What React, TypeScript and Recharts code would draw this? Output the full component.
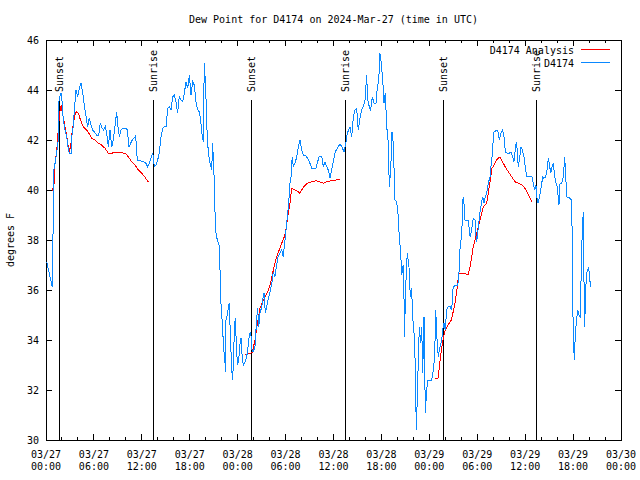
import React from 'react'
import {
  LineChart,
  Line,
  XAxis,
  YAxis,
  ReferenceLine,
  ReferenceArea,
  ReferenceDot,
} from 'recharts'

// time axis is minutes after 03/27 00:00 UTC
const blueMinutes = [
  5, 47, 53, 55, 68, 80, 92, 98, 110, 118,
  122, 130, 143, 156, 168, 175, 188, 193, 205, 213,
  225, 238, 250, 263, 276, 288, 301, 313, 325, 338,
  351, 363, 381, 396, 408, 421, 433, 446, 456, 468,
  481, 494, 506, 518, 531, 541, 551, 563, 581, 599,
  611, 624, 636, 648, 661, 674, 686, 701, 719, 736,
  751, 764, 776, 789, 802, 814, 826, 839, 851, 864,
  877, 889, 902, 914, 926, 939, 952, 964, 977, 989,
  1001, 1014, 1027, 1039, 1052, 1065, 1077, 1089, 1102, 1114,
  1127, 1140, 1152, 1162, 1174, 1182, 1189, 1200, 1207, 1219,
  1232, 1245, 1252, 1262, 1272, 1275, 1287, 1300, 1307, 1313,
  1322, 1330, 1337, 1345, 1347, 1352, 1365, 1370, 1377, 1388,
  1395, 1400, 1407, 1415, 1422, 1433, 1440, 1448, 1458, 1465,
  1475, 1482, 1495, 1508, 1520, 1527, 1538, 1548, 1557, 1570,
  1583, 1590, 1598, 1608, 1621, 1628, 1638, 1648, 1658, 1668,
  1678, 1688, 1698, 1708, 1720, 1733, 1743, 1758, 1771, 1783,
  1790, 1801, 1808, 1816, 1823, 1833, 1841, 1850, 1858, 1871,
  1884, 1896, 1908, 1921, 1933, 1953, 1966, 1983, 1996, 2029,
  2041, 2053, 2071, 2083, 2096, 2109, 2121, 2134, 2146, 2158,
  2174, 2189, 2209, 2222, 2239, 2254, 2264, 2274, 2284, 2297,
  2309, 2322, 2334, 2346, 2359, 2372, 2384, 2397, 2409, 2417,
  2429, 2439, 2452, 2464, 2479, 2489, 2500, 2509, 2519, 2530,
  2539, 2549, 2560, 2572, 2579, 2590, 2599, 2609, 2622, 2635,
  2647, 2654, 2665, 2672, 2684, 2690, 2695, 2699, 2714, 2727,
  2737, 2747, 2755, 2765, 2775, 2782, 2790, 2797, 2805, 2815,
  2823, 2830, 2840, 2850, 2860, 2870, 2898, 2910, 2920, 2928,
  2935, 2947, 2960, 2973, 2980, 2990, 3000, 3010, 3022, 3035,
  3048, 3053, 3058, 3073, 3090, 3098, 3105, 3110, 3118, 3125,
  3131, 3138, 3148, 3173, 3180, 3186, 3198, 3210, 3223, 3231,
  3236, 3248, 3261, 3273, 3281, 3291, 3301, 3311, 3323, 3336,
  3343, 3351, 3358, 3366, 3381, 3394, 3406, 3418, 3431, 3441,
  3451, 3466, 3481, 3494, 3506, 3516, 3524, 3533, 3541, 3548,
  3556, 3569, 3579, 3591, 3601, 3612, 3651, 3661, 3672, 3681,
  3687, 3696, 3706, 3717, 3732, 3741, 3754, 3764, 3774, 3781,
  3792, 3802, 3811, 3822, 3832, 3841, 3854, 3862, 3874, 3887,
  3897, 3905, 3912, 3937, 3947, 3954, 3957, 3962, 3969, 3977,
  3987, 3995, 4004, 4014, 4022, 4029, 4037, 4042, 4047, 4055,
  4062, 4070, 4077, 4085, 4095,
]

const blueValues = [
  37.13, 36.12, 38.36, 40.67, 41.07, 41.47, 42.0, 43.6, 43.87, 43.87,
  43.33, 42.8, 42.4, 42.13, 41.6, 41.47, 41.47, 42.13, 42.53, 43.2,
  44.0, 43.73, 44.07, 44.27, 43.87, 43.4, 42.93, 42.53, 42.87, 42.6,
  42.4, 42.33, 42.2, 42.2, 42.67, 42.47, 42.4, 42.53, 42.27, 41.73,
  42.4, 41.73, 42.0, 42.53, 43.13, 42.53, 42.13, 42.4, 42.47, 42.47,
  42.4, 41.73, 41.87, 42.0, 42.07, 42.16, 41.2, 41.2, 41.13, 41.13,
  41.07, 40.93, 41.07, 41.27, 41.47, 40.93, 41.0, 41.2, 41.47, 42.13,
  42.47, 42.53, 42.53, 43.27, 43.33, 43.2, 43.73, 43.8, 43.53, 43.07,
  43.73, 43.6, 43.53, 43.87, 44.33, 44.07, 44.6, 43.8, 44.33, 44.2,
  43.53, 43.2, 43.13, 42.8, 42.13, 41.93, 45.07, 44.07, 42.67, 41.53,
  41.07, 40.8, 41.87, 40.67, 38.67, 38.33, 38.0, 37.8, 36.87, 35.6,
  34.87, 34.13, 33.53, 33.07, 32.73, 34.8, 35.07, 35.36, 35.47, 33.73,
  32.93, 32.4, 32.87, 34.4, 34.87, 33.47, 33.0, 33.2, 33.87, 34.07,
  33.27, 33.0, 33.13, 33.33, 33.8, 34.2, 34.33, 33.6, 33.53, 33.73,
  34.87, 35.27, 34.53, 35.07, 35.33, 35.6, 35.87, 35.07, 35.33, 35.6,
  35.8, 36.07, 36.33, 36.73, 36.53, 37.0, 37.33, 37.47, 37.6, 37.33,
  37.73, 38.27, 38.67, 39.07, 39.47, 40.27, 40.53, 41.33, 40.93, 41.07,
  41.33, 41.73, 42.0, 41.6, 41.4, 41.36, 41.27, 41.07, 40.87, 40.87,
  41.13, 41.36, 41.36, 40.93, 41.13, 40.93, 40.8, 40.47, 40.8, 41.13,
  41.53, 41.67, 41.84, 41.73, 41.53, 41.93, 42.27, 42.4, 42.53, 42.13,
  42.93, 43.2, 43.27, 42.4, 42.87, 43.2, 43.33, 43.6, 44.6, 43.6,
  43.33, 43.2, 43.73, 43.47, 43.47, 44.07, 44.4, 45.47, 45.07, 44.4,
  43.47, 43.87, 42.53, 41.87, 40.13, 40.8, 42.33, 41.87, 39.6, 39.53,
  38.93, 38.13, 37.47, 36.6, 37.0, 35.6, 34.13, 35.73, 37.47, 36.93,
  35.73, 36.07, 34.93, 34.27, 32.93, 30.4, 31.73, 33.2, 34.53, 33.87,
  34.53, 32.67, 34.93, 31.07, 32.0, 32.4, 32.4, 32.8, 33.33, 35.2,
  34.27, 33.33, 33.73, 34.0, 34.4, 34.67, 34.4, 35.2, 35.33, 35.36,
  35.2, 35.6, 36.07, 36.2, 36.2, 36.33, 36.87, 37.6, 38.0, 38.47,
  39.6, 39.67, 38.8, 38.8, 38.4, 38.13, 38.4, 38.88, 38.8, 38.13,
  37.93, 38.53, 39.12, 39.53, 39.73, 39.47, 39.73, 39.87, 40.27, 40.53,
  40.93, 41.33, 41.87, 42.33, 42.37, 42.37, 42.0, 42.27, 42.4, 42.13,
  41.53, 41.47, 41.47, 41.53, 41.33, 41.13, 41.53, 41.93, 41.6, 40.93,
  41.2, 41.73, 41.6, 41.33, 40.93, 40.53, 40.53, 40.27, 40.0, 40.2,
  39.73, 39.47, 39.67, 40.0, 40.53, 40.47, 40.53, 40.8, 41.27, 41.07,
  40.67, 40.93, 41.07, 40.53, 40.27, 40.13, 39.4, 40.27, 40.27, 40.53,
  41.33, 40.53, 39.73, 39.67, 39.6, 38.13, 35.73, 34.13, 33.2, 34.27,
  34.87, 35.2, 35.0, 34.93, 37.0, 38.4, 39.13, 36.4, 34.53, 36.07,
  36.67, 36.8, 36.93, 36.4, 36.13,
]

// analysis series comes in three runs
const analysisMinutes1 = [
  47, 60, 68, 80, 92, 100, 108, 115, 122, 130,
  143, 156, 168, 175, 186, 198, 210, 220, 231, 243,
  255, 268, 280, 306, 331, 343, 368, 393, 418, 443,
  468, 494, 518, 543, 569, 601, 618, 644, 669, 693,
  719, 744, 761, 776,
]
const analysisValues1 = [
  39.97, 40.2, 41.07, 41.53, 42.4, 42.9, 43.3, 43.35, 43.1, 42.93,
  42.53, 42.13, 41.73, 41.53, 41.8, 42.4, 42.8, 43.07, 43.13, 43.07,
  42.87, 42.67, 42.53, 42.4, 42.2, 42.07, 42.0, 41.87, 41.8, 41.67,
  41.47, 41.47, 41.51, 41.52, 41.49, 41.44, 41.33, 41.13, 41.0, 40.8,
  40.67, 40.51, 40.37, 40.31,
]
const analysisMinutes2 = [
  1495, 1520, 1538, 1548, 1557, 1570, 1583, 1595, 1608,
  1628, 1648, 1668, 1688, 1708,
  1733, 1752, 1771, 1783, 1795, 1808, 1820, 1833, 1846, 1858,
  1873, 1896, 1908, 1921, 1938, 1963, 1996, 2029, 2053, 2083,
  2109, 2146, 2179, 2209,
]
const analysisValues2 = [
  33.4, 33.44, 33.47, 33.49, 33.67, 34.0, 34.47, 34.87, 35.27,
  35.55, 35.75, 35.95, 36.3, 36.8,
  37.33, 37.6, 37.87, 38.03, 38.2, 38.6, 39.07, 39.47, 40.07, 40.03,
  40.0, 39.93, 39.87, 40.0, 40.13, 40.27, 40.33, 40.37, 40.33, 40.27,
  40.33, 40.37, 40.4, 40.43,
]
const analysisMinutes3 = [
  2925, 2945, 2955, 2970, 2983, 2995, 3007, 3020, 3045, 3071,
  3090, 3101, 3141, 3171, 3186, 3198, 3210, 3223, 3236, 3248,
  3261, 3273, 3286, 3311, 3323, 3330, 3341, 3348, 3361, 3373,
  3386, 3398, 3411, 3423, 3436, 3456, 3473, 3499, 3524, 3548,
  3574, 3591, 3606, 3624, 3636, 3651,
]
const analysisValues3 = [
  32.47, 32.47, 32.9, 33.6, 34.0, 34.33, 34.47, 34.6, 34.8, 35.4,
  36.13, 36.67, 36.67, 36.6, 36.93, 37.33, 37.73, 38.0, 38.27, 38.53,
  38.8, 39.07, 39.33, 39.47, 39.87, 40.13, 40.47, 40.87, 40.93, 41.07,
  41.2, 41.27, 41.33, 41.2, 41.07, 40.87, 40.73, 40.53, 40.33, 40.27,
  40.2, 40.13, 40.0, 39.8, 39.67, 39.53,
]

const sunMinutes = [100, 806, 1542, 2249, 2985, 3684]
const sunLabels = ['Sunset', 'Sunrise', 'Sunset', 'Sunrise', 'Sunset', 'Sunrise']
const sunLineTop = 43.6

const yTicks = [30, 32, 34, 36, 38, 40, 42, 44, 46]
const xTicks = Array.from({ length: 37 }, (_, i) => i * 120)
const tickDates = ['03/27', '03/27', '03/27', '03/27', '03/28', '03/28', '03/28', '03/28', '03/29', '03/29', '03/29', '03/29', '03/30']
const tickTimes = ['00:00', '06:00', '12:00', '18:00', '00:00', '06:00', '12:00', '18:00', '00:00', '06:00', '12:00', '18:00', '00:00']

const title = 'Dew Point for D4174 on 2024-Mar-27 (time in UTC)'
const analysisName = 'D4174 Analysis'
const stationName = 'D4174'

const RED = '#ff0000'
const BLUE = '#0a88ff'
const FONT = "'DejaVu Sans Mono', monospace"

const W = 640
const H = 480
const PLOT = { left: 46, right: 621, top: 40, bottom: 440 }

const pairs = (ts: number[], vs: number[]) => ts.map((t, i) => ({ t, v: vs[i] }))

const blueData = pairs(blueMinutes, blueValues)
const redData = [
  ...pairs(analysisMinutes1, analysisValues1),
  { t: 1000, v: null },
  ...pairs(analysisMinutes2, analysisValues2),
  { t: 2500, v: null },
  ...pairs(analysisMinutes3, analysisValues3),
]

function XTick(props: any) {
  const { x, payload } = props
  const t = payload.value as number
  const major = t % 360 === 0
  const len = major ? 6 : 3
  const idx = t / 360
  return (
    <g>
      <line x1={x} x2={x} y1={PLOT.bottom} y2={PLOT.bottom - len} stroke="#000" shapeRendering="crispEdges" />
      <line x1={x} x2={x} y1={PLOT.top} y2={PLOT.top + len} stroke="#000" shapeRendering="crispEdges" />
      {major && (
        <text x={x} y={PLOT.bottom + 18} textAnchor="middle" fontFamily={FONT} fontSize={10} fill="#000">
          <tspan x={x}>{tickDates[idx]}</tspan>
          <tspan x={x} dy={12}>{tickTimes[idx]}</tspan>
        </text>
      )}
    </g>
  )
}

function YTick(props: any) {
  const { y, payload } = props
  return (
    <g>
      <line x1={PLOT.left} x2={PLOT.left + 6} y1={y} y2={y} stroke="#000" shapeRendering="crispEdges" />
      <line x1={PLOT.right} x2={PLOT.right - 6} y1={y} y2={y} stroke="#000" shapeRendering="crispEdges" />
      <text x={PLOT.left - 7} y={y + 4} textAnchor="end" fontFamily={FONT} fontSize={10} fill="#000">
        {payload.value}
      </text>
    </g>
  )
}

function SunLabel(text: string) {
  return (props: any) => {
    const { cx, cy } = props
    const x = cx + 4
    const y = cy - 8
    return (
      <text x={x} y={y} transform={`rotate(-90 ${x} ${y})`} fontFamily={FONT} fontSize={10} fill="#000">
        {text}
      </text>
    )
  }
}

export default function App() {
  return (
    <div style={{ position: 'absolute', left: 0, top: 0, width: W, height: H, background: '#fff' }}>
      <LineChart width={W} height={H} margin={{ top: PLOT.top, right: W - PLOT.right, bottom: 0, left: 0 }}>
        <XAxis
          type="number"
          dataKey="t"
          domain={[0, 4320]}
          ticks={xTicks}
          interval={0}
          height={H - PLOT.bottom}
          axisLine={false}
          tickLine={false}
          tick={XTick}
        />
        <YAxis
          type="number"
          domain={[30, 46]}
          ticks={yTicks}
          interval={0}
          width={PLOT.left}
          axisLine={false}
          tickLine={false}
          tick={YTick}
        />
        <ReferenceArea x1={0} x2={4320} y1={30} y2={46} fill="none" stroke="#000" strokeOpacity={1} shapeRendering="crispEdges" />
        {sunMinutes.map((t, i) => (
          <ReferenceLine
            key={`sun-${i}`}
            segment={[{ x: t, y: 30 }, { x: t, y: sunLineTop }]}
            stroke="#000"
            shapeRendering="crispEdges"
          />
        ))}
        {sunMinutes.map((t, i) => (
          <ReferenceDot key={`sunlbl-${i}`} x={t} y={sunLineTop} shape={SunLabel(sunLabels[i])} />
        ))}
        <Line
          data={redData}
          dataKey="v"
          stroke={RED}
          strokeWidth={1}
          dot={false}
          connectNulls={false}
          isAnimationActive={false}
          type="linear"
          shapeRendering="crispEdges"
        />
        <Line
          data={blueData}
          dataKey="v"
          stroke={BLUE}
          strokeWidth={1}
          dot={false}
          isAnimationActive={false}
          type="linear"
          shapeRendering="crispEdges"
        />
      </LineChart>
      <svg width={W} height={H} style={{ position: 'absolute', left: 0, top: 0, pointerEvents: 'none' }}>
        <text x={(PLOT.left + PLOT.right) / 2} y={23} textAnchor="middle" fontFamily={FONT} fontSize={10} fill="#000">
          {title}
        </text>
        <text x={14} y={240} textAnchor="middle" transform="rotate(-90 14 240)" fontFamily={FONT} fontSize={10} fill="#000">
          degrees F
        </text>
        <text x={574} y={54} textAnchor="end" fontFamily={FONT} fontSize={10} fill="#000">
          {analysisName}
        </text>
        <line x1={581} x2={610} y1={49.5} y2={49.5} stroke={RED} />
        <text x={574} y={67} textAnchor="end" fontFamily={FONT} fontSize={10} fill="#000">
          {stationName}
        </text>
        <line x1={581} x2={610} y1={62.5} y2={62.5} stroke={BLUE} />
      </svg>
    </div>
  )
}
